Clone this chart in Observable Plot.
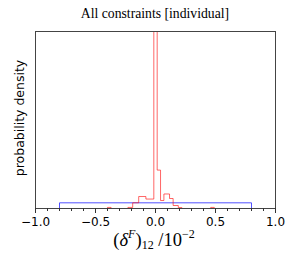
<!DOCTYPE html>
<html><head><meta charset="utf-8">
<script src="https://cdn.jsdelivr.net/npm/d3@7"></script>
<script src="https://cdn.jsdelivr.net/npm/@observablehq/plot@0.6"></script>
<style>body{margin:0;background:#fff}</style>
</head><body><div id="chart"></div>
<script>
const titleText = "All constraints [individual]";
const yLabel = "probability density";
const xTicks = [-1, -0.5, 0, 0.5, 1];
const xMinor = [-1,-0.9,-0.8,-0.7,-0.6,-0.5,-0.4,-0.3,-0.2,-0.1,0,0.1,0.2,0.3,0.4,0.5,0.6,0.7,0.8,0.9,1];
// blue histogram (uniform prior)
const blueEdges = [-0.8, 0.8];
const blueVals = [0.625];
// red histogram
const redEdges = [-0.40, -0.37, -0.23, -0.19, -0.14, -0.08, -0.014, 0.014, 0.042, 0.07, 0.117, 0.147, 0.19, 0.22, 0.46, 0.49];
const redVals  = [0.12, 0, 0.12, 0.63, 1.32, 1.04, 22, 4.23, 0.88, 1.6, 1.1, 0.33, 0.1, 0, 0.12];

function steps(edges, vals) {
  const pts = [{x: edges[0], y: 0}];
  vals.forEach((v, i) => { pts.push({x: edges[i], y: v}); pts.push({x: edges[i+1], y: v}); });
  pts.push({x: edges[edges.length-1], y: 0});
  return pts;
}
const fmt = d => d.toFixed(1).replace("-", "\u2212");

const plot = Plot.plot({
  width: 296, height: 261,
  marginLeft: 35, marginRight: 21, marginTop: 31, marginBottom: 53,
  x: {domain: [-1, 1], label: null},
  y: {domain: [0, 19.5], axis: null},
  style: {fontFamily: "DejaVu Sans", fontSize: "11px", color: "#000", background: "#fff"},
  marks: [
    Plot.line(steps(blueEdges, blueVals), {x: "x", y: "y", stroke: "#3333ff", strokeWidth: 1, strokeOpacity: 0.85}),
    Plot.line(steps(redEdges, redVals), {x: "x", y: "y", stroke: "#ff0000", strokeWidth: 1, strokeOpacity: 0.6, clip: true}),
    Plot.frame({stroke: "#444", strokeWidth: 1}),
    Plot.axisX(xMinor, {tickSize: 3, tickFormat: () => "", stroke: "#333", label: null}),
    Plot.axisX(xTicks, {tickSize: 5, tickPadding: 4, tickFormat: fmt, fontSize: 12, stroke: "#333", label: null})
  ]
});
document.getElementById("chart").append(plot);

const svg = d3.select(plot);
// title
svg.append("text")
  .attr("x", 155).attr("y", 18)
  .attr("text-anchor", "middle")
  .style("font-family", "'Liberation Serif', serif")
  .style("font-size", "13.7px")
  .attr("fill", "#000")
  .text(titleText);
// y label
svg.append("text")
  .attr("transform", "translate(23.5,118) rotate(-90)")
  .attr("text-anchor", "middle")
  .style("font-family", "'DejaVu Sans'")
  .style("font-size", "12.5px")
  .attr("fill", "#000")
  .text(yLabel);
// x-axis label with sub/superscripts
const t = svg.append("text")
  .attr("x", 154).attr("y", 246)
  .attr("text-anchor", "middle")
  .style("font-family", "'Liberation Serif', serif")
  .style("font-size", "18.5px")
  .attr("fill", "#000");
t.append("tspan").text("(");
t.append("tspan").style("font-style", "italic").text("\u03B4");
t.append("tspan").style("font-style", "italic").style("font-size", "12px").attr("dy", -8).text("F");
t.append("tspan").attr("dy", 8).text(")");
t.append("tspan").style("font-size", "12px").attr("dy", 3).text("12");
t.append("tspan").attr("dy", -3).text(" /10");
t.append("tspan").style("font-size", "12px").attr("dy", -8).text("\u22122");
</script>
</body></html>
